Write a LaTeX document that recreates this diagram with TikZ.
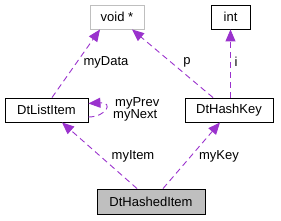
\documentclass[tikz,border=0pt]{standalone}
\usepackage{fontspec}
\setmainfont{Liberation Sans}
\usetikzlibrary{arrows.meta,calc}
\definecolor{edgec}{HTML}{9A32CD}
\definecolor{grayb}{HTML}{BFBFBF}
\definecolor{fillg}{HTML}{BFBFBF}
\begin{document}
\begin{tikzpicture}[x=1pt,y=-1pt,
  box/.style={draw=black,line width=0.9pt,minimum height=24pt,inner sep=0pt,font=\fontsize{13}{15}\selectfont},
  lbl/.style={font=\fontsize{13}{15}\selectfont,inner sep=0pt},
  rel/.style={draw=edgec,line width=0.9pt,dash pattern=on 6pt off 4pt,-{Triangle[length=12pt,width=10pt]},color=edgec}]
\useasboundingbox (0,0) rectangle (281,221);
\node[box,draw=grayb,minimum width=54pt] (v) at (117,17) {void *};
\node[box,minimum width=39pt] (int) at (230.5,17) {int};
\node[box,minimum width=83pt] (li) at (46.5,110) {DtListItem};
\node[box,minimum width=88pt] (hk) at (229,110) {DtHashKey};
\node[box,fill=fillg,minimum width=108pt,minimum height=25pt] (hi) at (151,201.5) {DtHashedItem};
% edges
\draw[rel] ($(li.north)+(5.5,0)$) -- ($(v.south)+(-17,0)$);
\draw[rel] ($(hk.north)+(-16,0)$) -- ($(v.south)+(15,0)$);
\draw[rel] (hk.north -| int.south) -- (int.south);
\draw[rel] ($(hi.north)+(-14,0)$) -- ($(li.south)+(15.5,0)$);
\draw[rel] ($(hi.north)+(12,0)$) -- ($(hk.south)+(-9,0)$);
\draw[rel] ($(li.east)+(0,7)$) .. controls (106,117) and (114,102) .. ($(li.east)+(0,-6.5)$);
% labels
\node[lbl] (lData) at (106,62) {myData};
\node[lbl] (lp) at (187,62) {p};
\node[lbl] (li2) at (236,62) {i};
\node[lbl] (lItem) at (133,156) {myItem};
\node[lbl] (lKey) at (219,156) {myKey};
\node[lbl,anchor=west] (lPrev) at (115,103) {myPrev};
\node[lbl,anchor=west] (lNext) at (113,115.5) {myNext};
\end{tikzpicture}
\end{document}
